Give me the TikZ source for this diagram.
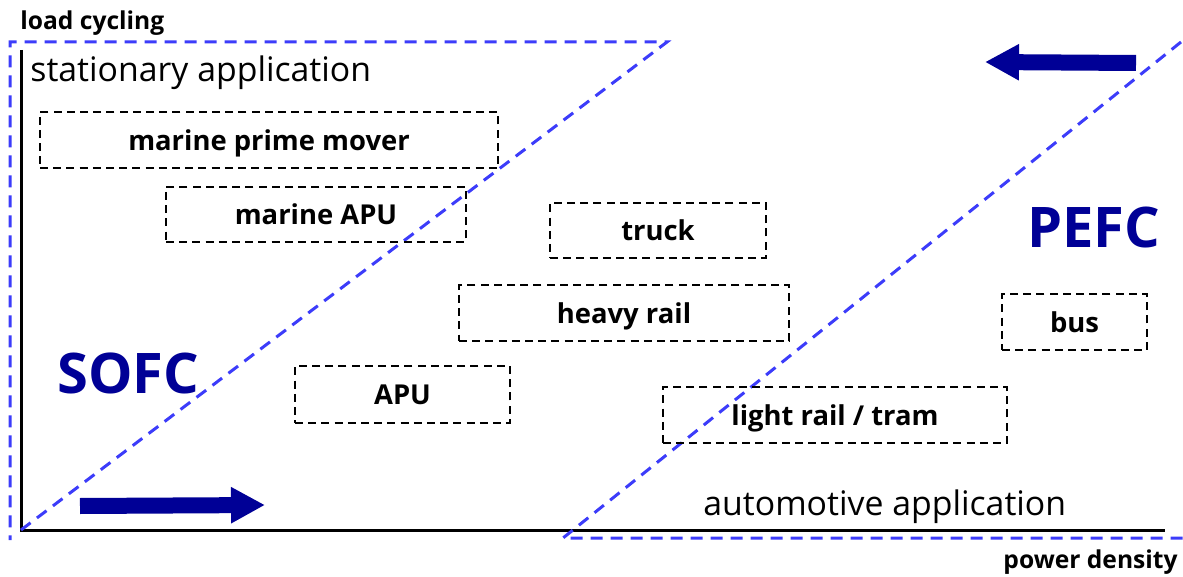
\documentclass[tikz,border=0pt]{standalone}
\usepackage{fontspec}
\setmainfont{Open Sans}
\usetikzlibrary{arrows.meta,positioning}
\definecolor{dashblue}{RGB}{60,60,250}
\definecolor{navy}{RGB}{0,0,150}

\begin{document}
\begin{tikzpicture}[x=0.5pt,y=-0.5pt,
    appbox/.style={draw,dash pattern=on 4pt off 2.6pt,line width=1.2pt,inner sep=0pt,text depth=0pt,font=\bfseries\fontsize{13.7}{15}\selectfont},
    region/.style={dashblue,dash pattern=on 6pt off 4pt,line width=1.5pt},
    bigarrow/.style={navy,line width=8pt,-{Triangle[length=17pt,width=17pt]}},
    fclabel/.style={navy,inner sep=0pt,anchor=base west,font=\bfseries\fontsize{28}{30}\selectfont},
    applabel/.style={inner sep=0pt,anchor=base west,font=\fontsize{16.9}{18}\selectfont},
    axlabel/.style={inner sep=0pt,font=\bfseries\fontsize{12.3}{14}\selectfont}]
  \useasboundingbox (0,0) rectangle (1183,577);
  % axes
  \coordinate (origin) at (21,530);
  \draw[line width=1.5pt] (21,50) -- (origin) -- (1165,530);
  \node[axlabel,anchor=base west] (ylab) at (20,30) {load cycling};
  \node[axlabel,anchor=base east] (xlab) at (1178,568) {power density};
  % regions
  \draw[region] (origin) -- (667,42) -- (10,42) -- (10,540);
  \draw[region] (1181,42) -- (563,538) -- (1183,538);
  \node[applabel] (stat) at (30,82) {stationary application};
  \node[applabel] (auto) at (703,515) {automotive application};
  \node[fclabel] (sofc) at (57,393) {SOFC};
  \node[fclabel] (pefc) at (1027,248) {PEFC};
  % arrows
  \coordinate (s0) at (80,506); \coordinate (s1) at (265,505);
  \coordinate (p0) at (1136,63); \coordinate (p1) at (985,62);
  \draw[bigarrow] (s0) -- (s1);
  \draw[bigarrow] (p0) -- (p1);
  % applications
  \node[appbox,minimum width=229pt,minimum height=28pt] (prime) at (269,140) {marine prime mover};
  \node[appbox,minimum width=150pt,minimum height=27.5pt] (mapu) at (316,214.5) {marine APU};
  \node[appbox,minimum width=108pt,minimum height=27.5pt] (truck) at (658,230.5) {truck};
  \node[appbox,minimum width=165pt,minimum height=28pt] (rail) at (624,313) {heavy rail};
  \node[appbox,minimum width=107.5pt,minimum height=28.5pt] (apu) at (402.5,394.5) {APU};
  \node[appbox,minimum width=172pt,minimum height=28pt] (tram) at (835,415) {light rail / tram};
  \node[appbox,minimum width=72.5pt,minimum height=28pt] (bus) at (1074.5,322) {bus};
\end{tikzpicture}
\end{document}
